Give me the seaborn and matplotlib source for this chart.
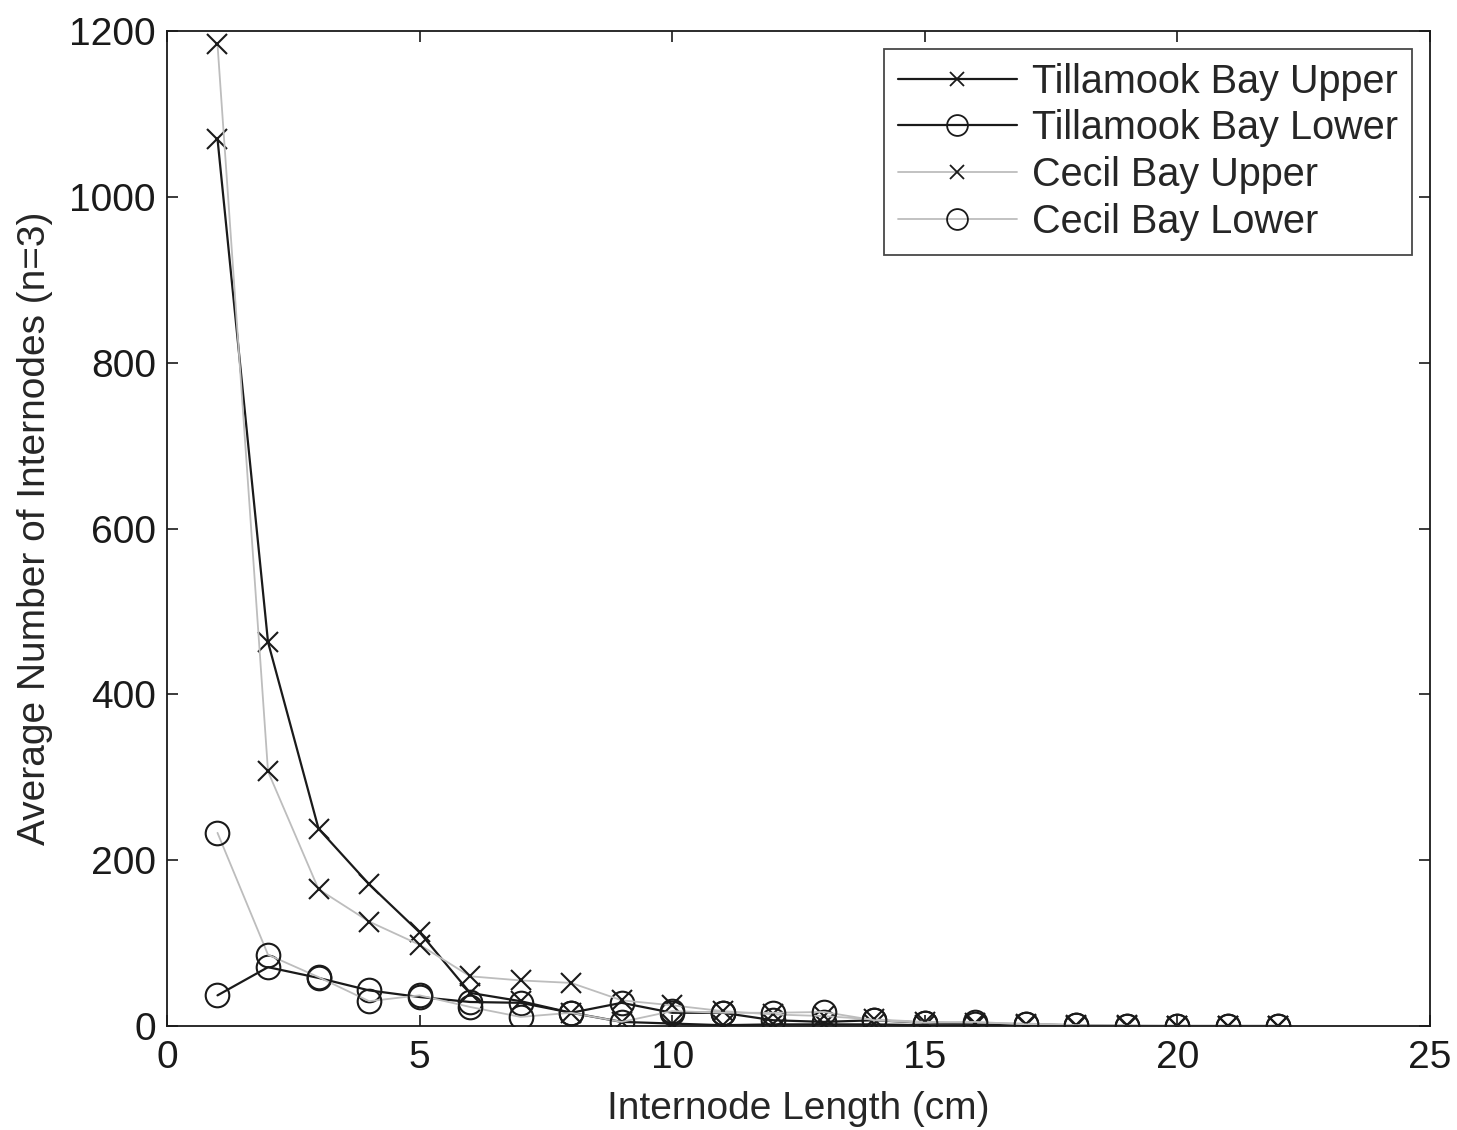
import numpy as np
import pandas as pd
import matplotlib
matplotlib.use("Agg")
import matplotlib.pyplot as plt
import seaborn as sns

# Data
x_len = list(range(1, 23))
tb_upper = [1070, 463, 238, 171, 113, 40, 30, 16, 5, 3, 1, 2, 2, 2, 1, 1, 1, 0, 0, 0, 0, 0]
tb_lower = [37, 71, 58, 43, 35, 29, 28, 16, 28, 16, 16, 7, 5, 7, 4, 3, 2, 1, 0, 0, 0, 0]
cb_upper = [1184, 307, 165, 126, 98, 60, 55, 52, 31, 25, 18, 14, 12, 8, 5, 4, 3, 1, 1, 0, 0, 0]
cb_lower = [233, 86, 59, 30, 37, 23, 11, 16, 5, 18, 16, 16, 17, 7, 4, 5, 2, 1, 0, 0, 0, 0]

series_names = ["Tillamook Bay Upper", "Tillamook Bay Lower", "Cecil Bay Upper", "Cecil Bay Lower"]
series_vals = [tb_upper, tb_lower, cb_upper, cb_lower]
x_ticks = [0, 5, 10, 15, 20, 25]
y_ticks = [0, 200, 400, 600, 800, 1000, 1200]

sns.set_theme(style="ticks")
plt.rcParams['font.family'] = ['Liberation Sans', 'DejaVu Sans']

fig = plt.figure(figsize=(14.57, 11.30), dpi=100)
ax = fig.add_axes([0.1146, 0.092, 0.9815 - 0.1146, 0.9726 - 0.092])

styles = [
    dict(color="#1a1a1a", marker="x", lw=1.6, ms=14),
    dict(color="#1a1a1a", marker="o", lw=1.6, ms=17),
    dict(color="#bdbdbd", marker="x", lw=1.3, ms=14),
    dict(color="#bdbdbd", marker="o", lw=1.3, ms=17),
]

for name, vals, st in zip(series_names, series_vals, styles):
    df = pd.DataFrame({"x": x_len, "y": vals})
    sns.lineplot(data=df, x="x", y="y", ax=ax, color=st["color"], marker=st["marker"],
                 linewidth=st["lw"], markersize=st["ms"], markeredgecolor="#1a1a1a",
                 markerfacecolor="none", markeredgewidth=1.5, label=name)

ax.set_xlim(0, 25)
ax.set_ylim(0, 1200)
ax.set_xticks(x_ticks)
ax.set_yticks(y_ticks)
ax.tick_params(direction="in", length=8, width=1.2, labelsize=28, top=True, right=True, colors="#1a1a1a")
ax.tick_params(axis="x", pad=10)
ax.tick_params(axis="y", pad=8)
for sp in ax.spines.values():
    sp.set_visible(True)
    sp.set_linewidth(1.3)
    sp.set_color("#1a1a1a")
ax.set_xlabel("Internode Length (cm)", fontsize=28, labelpad=11)
ax.set_ylabel("Average Number of Internodes (n=3)", fontsize=28, labelpad=12)

leg = ax.legend(loc="upper right", fontsize=28.5, frameon=True, fancybox=False,
                edgecolor="#1a1a1a", handlelength=3.0, handletextpad=0.4,
                borderaxespad=0.45, labelspacing=0.22, borderpad=0.35)
leg.get_frame().set_linewidth(1.3)
for h, st in zip(leg.legend_handles, styles):
    h.set_markersize(10 if st["marker"] == "x" else 15)
    h.set_markeredgewidth(1.3)

fig.savefig("out.png", dpi=100)
